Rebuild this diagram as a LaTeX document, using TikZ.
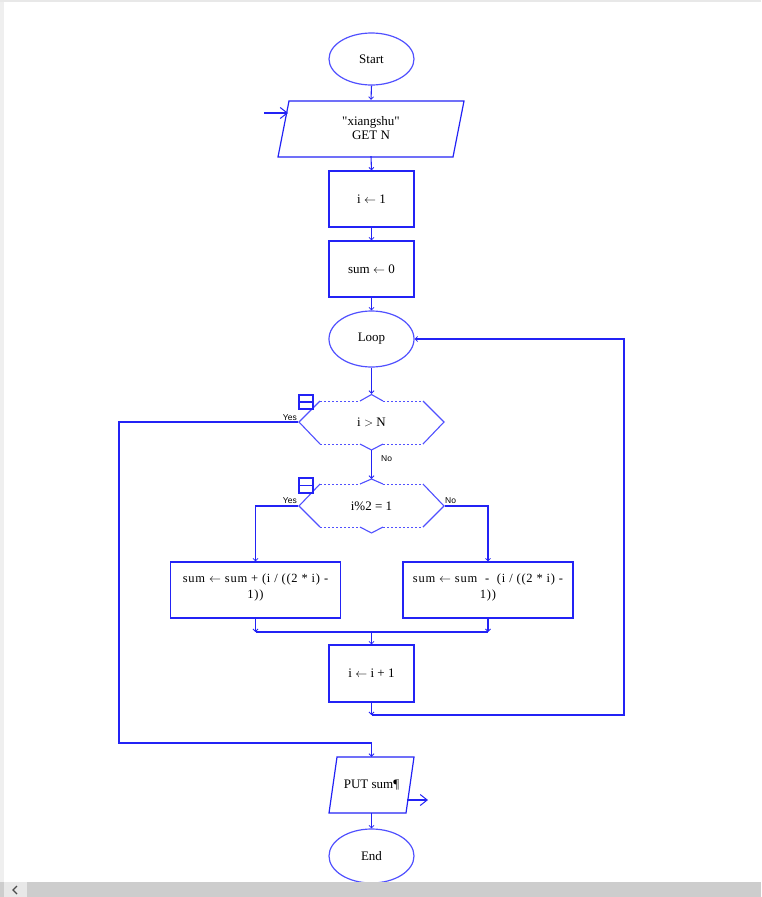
\documentclass[tikz,border=0pt]{standalone}
\usepackage{fontspec}
\setmainfont{Liberation Serif}
\newfontfamily\labfont{Liberation Sans}
\newfontfamily\spacedfont[LetterSpace=6]{Liberation Serif}
\usetikzlibrary{shapes.geometric,arrows.meta,calc}
\definecolor{lineblue}{RGB}{35,35,245}
\definecolor{shapeblue}{RGB}{80,80,255}
\definecolor{barGray}{RGB}{205,205,205}
\definecolor{barLight}{RGB}{232,232,232}
\tikzset{
  conn/.style={draw=lineblue, line width=1.1pt},
  tip/.style={-{Straight Barb[length=2.5pt,width=5pt,line width=0.8pt]}},
  bigtip/.style={-{Straight Barb[length=7pt,width=11pt,line width=1pt]}},
  procbox/.style={draw=lineblue, line width=1.2pt, rectangle, inner sep=0pt, align=center, font=\fontsize{13}{15}\selectfont},
  term/.style={draw=shapeblue, line width=1.2pt, ellipse, inner sep=0pt, minimum width=85pt, minimum height=52pt, font=\fontsize{13}{15}\selectfont},
  ghost/.style={rectangle, inner sep=0pt, align=center, font=\fontsize{13}{13.5}\selectfont},
  btext/.style={inner sep=0pt, align=center, font=\spacedfont\fontsize{12.5}{16}\selectfont},
  hexsolid/.style={draw=shapeblue, line width=1.1pt},
  hexdash/.style={draw=shapeblue, line width=0.9pt, dash pattern=on 2pt off 2pt},
  ylab/.style={font=\labfont\fontsize{8.5}{9}\selectfont, inner sep=0pt},
  icon/.style={draw=lineblue, line width=1.2pt}
}
\begin{document}
\begin{tikzpicture}[x=1pt,y=-1pt]
\useasboundingbox (0,0) rectangle (761,897);
% window frame bits
\fill[barLight!70] (0,0) rectangle (4,882);
\fill[barLight] (0,0) rectangle (761,2);

% Start
\node[term] (start) at (371.5,59) {Start};

% GET parallelogram
\draw[draw=lineblue, line width=1.2pt] (278,157) -- (289,101) -- (464,101) -- (453,157) -- cycle;
\node[ghost, minimum width=164pt, minimum height=56pt] (get) at (371,128) {\textquotedbl xiangshu\textquotedbl\\GET N};
\coordinate (inA) at (264,113);
\coordinate (inB) at (288,113);
\draw[conn, bigtip] (inA) -- (inB);

% boxes
\node[procbox, minimum width=85pt, minimum height=56pt] (b1) at (371.5,199) {i $\leftarrow$ 1};
\node[procbox, minimum width=85pt, minimum height=56pt] (b2) at (371.5,269) {sum $\leftarrow$ 0};
\node[term, minimum height=56pt] (loop) at (371.5,339) {Loop};

% decision 1
\node[ghost, minimum width=146pt, minimum height=56pt] (d1) at (371.5,422) {i $>$ N};
\draw[hexdash] (320,401) -- (360,401);
\draw[hexdash] (383,401) -- (423,401);
\draw[hexdash] (320,444) -- (360,444);
\draw[hexdash] (383,444) -- (423,444);
\draw[hexsolid] (360,401) -- (371.5,394.5) -- (383,401);
\draw[hexsolid] (360,444) -- (371.5,450) -- (383,444);
\draw[hexsolid] (320,401) -- (299,422) -- (320,444);
\draw[hexsolid] (423,401) -- (444,422) -- (423,444);
\draw[icon] (299,395) rectangle (313,409);
\draw[icon] (299,402) -- (313,402);
\node[ylab, anchor=base east] (y1) at (297,420) {Yes};
\node[ylab, anchor=base west] (n1) at (381,461) {No};

% decision 2
\node[ghost, minimum width=146pt, minimum height=54pt] (d2) at (371.5,506) {i\%2 = 1};
\draw[hexdash] (320,484) -- (360,484);
\draw[hexdash] (383,484) -- (423,484);
\draw[hexdash] (320,527) -- (360,527);
\draw[hexdash] (383,527) -- (423,527);
\draw[hexsolid] (360,484) -- (371.5,479) -- (383,484);
\draw[hexsolid] (360,527) -- (371.5,533) -- (383,527);
\draw[hexsolid] (320,484) -- (299,506) -- (320,527);
\draw[hexsolid] (423,484) -- (444,506) -- (423,527);
\draw[icon] (299,478) rectangle (313,493);
\draw[icon] (299,485.5) -- (313,485.5);
\node[ylab, anchor=base east] (y2) at (297,503) {Yes};
\node[ylab, anchor=base west] (n2) at (445,503) {No};

% branch boxes
\node[procbox, minimum width=170pt, minimum height=56pt] (lbox) at (255.5,590) {};
\node[btext] (ltext) at (255.5,587) {sum $\leftarrow$ sum + (i / ((2 * i) -\\1))};
\node[procbox, minimum width=170pt, minimum height=56pt] (rbox) at (488,590) {};
\node[btext] (rtext) at (488,587) {sum $\leftarrow$ sum \ - \ (i / ((2 * i) -\\1))};

\node[procbox, minimum width=85pt, minimum height=57pt] (inc) at (371.5,673.5) {i $\leftarrow$ i + 1};

% PUT parallelogram
\draw[draw=lineblue, line width=1.2pt] (329,813) -- (337,757) -- (414,757) -- (406,813) -- cycle;
\node[ghost, minimum width=77pt, minimum height=56pt] (put) at (371.5,785) {PUT sum¶};
\coordinate (outA) at (407,800);
\coordinate (outB) at (428,800);
\draw[conn, bigtip] (outA) -- (outB);

\node[term, minimum height=54pt] (end) at (371.5,856) {End};

% connectors
\draw[conn, tip] (start.south) -- (get.north);
\draw[conn, tip] (get.south) -- (b1.north);
\draw[conn, tip] (b1.south) -- (b2.north);
\draw[conn, tip] (b2.south) -- (loop.north);
\draw[conn, tip] (loop.south) -- (d1.north);
\draw[conn, tip] (d1.south) -- (d2.north);
\draw[conn, tip] (d1.west) -| (119,743) -| (put.north);
\draw[conn, tip] (d2.west) -| (lbox.north);
\draw[conn, tip] (d2.east) -| (rbox.north);
\coordinate (m) at (371.5,632);
\draw[conn, tip] (lbox.south) -- (lbox.south |- m);
\draw[conn, tip] (rbox.south) -- (rbox.south |- m);
\draw[conn] (lbox.south |- m) -- (rbox.south |- m);
\draw[conn, tip] (m) -- (inc.north);
\coordinate (back) at (371.5,715);
\draw[conn, tip] (inc.south) -- (back);
\draw[conn, tip] (back) -| (624,339) -- (loop.east);
\draw[conn, tip] (put.south) -- (end.north);

% scrollbar
\fill[barGray] (0,882) rectangle (761,897);
\fill[barLight] (4,882) rectangle (27,897);
\draw[black!70, line width=1.3pt] (17,886) -- (13,890) -- (17,894);
\end{tikzpicture}
\end{document}
